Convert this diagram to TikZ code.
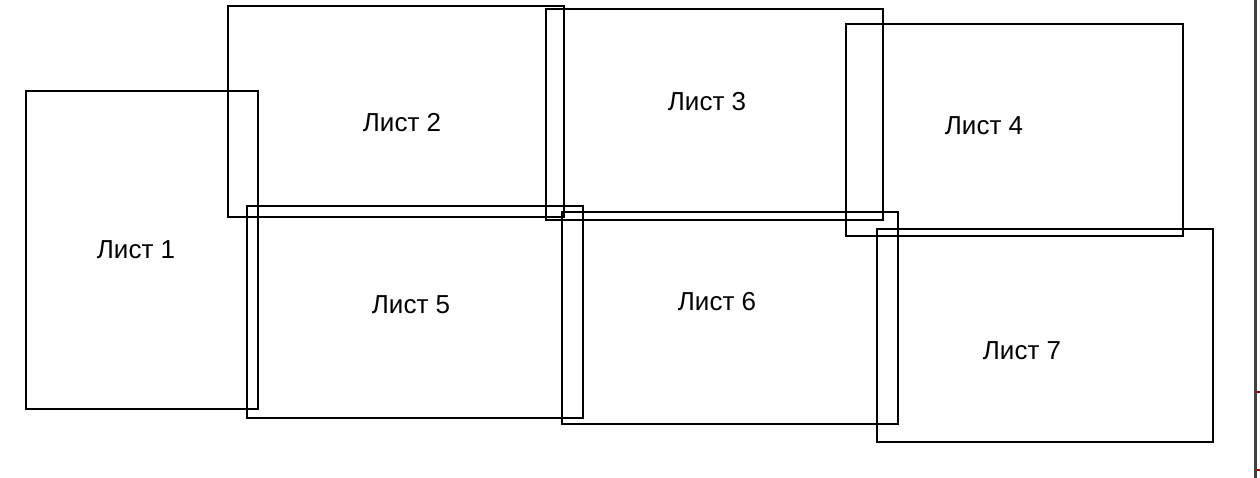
\documentclass[tikz,border=0pt]{standalone}
\usepackage{fontspec}
\setmainfont{Liberation Sans}
\begin{document}
\begin{tikzpicture}[x=1pt,y=-1pt,
  sheet/.style={draw=black,line width=1.6pt},
  sheetlabel/.style={font=\fontsize{26}{30}\selectfont,inner sep=0pt,anchor=center}]
\useasboundingbox (0,0) rectangle (1260,478);
% sheet outlines
\draw[sheet] (26,91) rectangle (258,409);
\draw[sheet] (228,6) rectangle (564,217);
\draw[sheet] (546,9) rectangle (883,220);
\draw[sheet] (846,24) rectangle (1183,236);
\draw[sheet] (247,206) rectangle (583,418);
\draw[sheet] (562,212) rectangle (898,424);
\draw[sheet] (877,229) rectangle (1213,442);
% sheet labels
\node[sheetlabel] (l1) at (136,250) {Лист 1};
\node[sheetlabel] (l2) at (402,123) {Лист 2};
\node[sheetlabel] (l3) at (707,102) {Лист 3};
\node[sheetlabel] (l4) at (984,126) {Лист 4};
\node[sheetlabel] (l5) at (411,305) {Лист 5};
\node[sheetlabel] (l6) at (717,302) {Лист 6};
\node[sheetlabel] (l7) at (1022,351) {Лист 7};
% page edge at the right
\draw[line width=2.6pt,draw=black!75] (1255.3,0) -- (1255.3,478);
\draw[line width=1.4pt,draw=red!60!black] (1256.8,392) -- (1260,392);
\draw[line width=1.4pt,draw=red!60!black] (1256.8,470) -- (1260,470);
\end{tikzpicture}
\end{document}
